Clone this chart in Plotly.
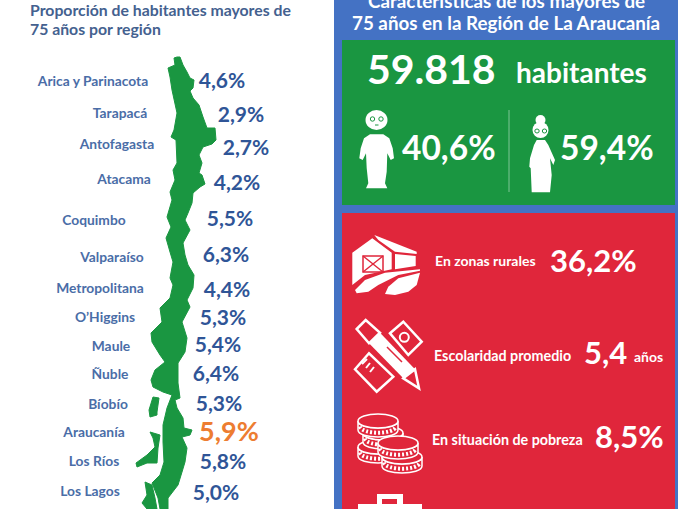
# Infografia: habitantes mayores de 75 anos, La Araucania
from plotly.graph_objects import Figure, Scatter

# datos
regiones = ['Arica y Parinacota', 'Tarapacá', 'Antofagasta', 'Atacama', 'Coquimbo', 'Valparaíso',
            'Metropolitana', 'O’Higgins', 'Maule', 'Ñuble', 'Bíobío', 'Araucanía', 'Los Ríos', 'Los Lagos']
proporcion = [4.6, 2.9, 2.7, 4.2, 5.5, 6.3, 4.4, 5.3, 5.4, 6.4, 5.3, 5.9, 5.8, 5.0]
habitantes = '59.818'
hombres = 40.6
mujeres = 59.4
rurales = 36.2
escolaridad = 5.4
pobreza = 8.5

# ubicacion de los textos en la pagina
label_x = [93, 120, 117, 124, 94, 112, 100, 105, 111, 110, 108, 94, 94, 90]
label_y = [83, 115, 146, 181, 222, 259, 290, 319, 348, 376, 406, 434, 463, 493]
valor_x = [222, 241, 246, 237, 230, 226, 227, 223, 218, 216, 219, 229, 223, 216]
valor_y = [83, 117, 150, 185, 221, 257, 292, 320, 347, 376, 406, 434, 464, 495]

FONT = 'Lato'
BLUE_PANEL = '#4472C4'
GREEN = '#1A9641'
RED = '#E0263B'
DARK_BLUE = '#2F5597'
LABEL_BLUE = '#4A6DA7'
ORANGE = '#ED7D31'
WHITE = '#FFFFFF'


def pct(v):
    return f'{v:.1f}'.replace('.', ',') + '%'


def poly(pts, ox=0, oy=0, k=1.0):
    p = [f'{ox + x * k:.1f},{oy + y * k:.1f}' for x, y in pts]
    return 'M ' + ' L '.join(p) + ' Z'


def path_shape(path, fill=WHITE, line=None, width=0):
    return dict(type='path', path=path, fillcolor=fill, line=dict(color=line or fill, width=width), layer='above')


def rect(x0, y0, x1, y1, fill):
    return dict(type='rect', x0=x0, y0=y0, x1=x1, y1=y1, fillcolor=fill, line=dict(width=0), layer='below')


def oval(cx, cy, rx, ry, fill=WHITE, line=None, width=0):
    return dict(type='circle', x0=cx - rx, x1=cx + rx, y0=cy - ry, y1=cy + ry, fillcolor=fill,
                line=dict(color=line or fill, width=width), layer='above')


def seg(x0, y0, x1, y1, color=WHITE, width=2):
    return dict(type='line', x0=x0, y0=y0, x1=x1, y1=y1, line=dict(color=color, width=width), layer='above')


def coin(cx, cy, rx=20, ry=7, h=9):
    l, r, c = cx - rx, cx + rx, ry * 1.33
    body = f'M {l},{cy} C {l},{cy + c} {r},{cy + c} {r},{cy} L {r},{cy + h} C {r},{cy + h + c} {l},{cy + h + c} {l},{cy + h} Z'
    mid = cy + h / 2
    ticks = f'M {l + 2},{mid + 1} C {l + 4},{mid + c} {r - 4},{mid + c} {r - 2},{mid + 1}'
    return [
        path_shape(body, fill=RED, line=WHITE, width=1.5),
        dict(type='path', path=ticks, line=dict(color=WHITE, width=4, dash='2px,2px'), layer='above'),
        oval(cx, cy, rx, ry, fill=RED, line=WHITE, width=1.5),
    ]


# mapa de Chile
chile = [(177, 57), (180, 57), (183, 65), (187, 72), (190, 78), (194, 80), (193, 88), (190, 91), (193, 98), (199, 105),
         (203, 117), (207, 128), (215, 128), (216, 140), (212, 144), (203, 147), (199, 155), (202, 163), (199, 173),
         (202, 175), (205, 184), (200, 187), (193, 193), (192, 203), (188, 213), (185, 220), (190, 230), (183, 243),
         (185, 255), (188, 265), (194, 275), (193, 288), (187, 300), (190, 307), (182, 322), (187, 338), (185, 352),
         (178, 363), (178, 383), (180, 398), (175, 400), (177, 408), (183, 418), (184, 428), (192, 430), (190, 435),
         (182, 437), (187, 448), (185, 462), (182, 472), (178, 485), (168, 498), (168, 509), (160, 509), (158, 498),
         (152, 483), (160, 475), (164, 462), (163, 442), (163, 425), (167, 408), (172, 395), (163, 392), (153, 387),
         (151, 380), (155, 370), (165, 362), (160, 355), (152, 342), (151, 333), (162, 322), (160, 308), (170, 298),
         (173, 285), (170, 278), (173, 262), (170, 252), (166, 238), (171, 227), (167, 217), (172, 200), (170, 192),
         (175, 180), (173, 170), (177, 163), (176, 140), (171, 137), (174, 130), (177, 113), (172, 90), (170, 77),
         (168, 68), (175, 65), (174, 58)]
isla_a = [(153, 397), (159, 398), (157, 412), (157, 415), (150, 417), (149, 410)]
isla_b = [(150, 432), (160, 435), (158, 448), (157, 463), (147, 463), (137, 467), (136, 463), (147, 455), (155, 447),
          (153, 438)]
isla_c = [(145, 482), (152, 485), (155, 498), (157, 509), (147, 509), (142, 503), (147, 495)]

# figuras: hombre y mujer
hombre = [(60, 88), (100, 88), (118, 100), (128, 130), (132, 160), (122, 165), (112, 145), (110, 200), (105, 235),
          (112, 250), (48, 250), (55, 235), (50, 190), (48, 145), (38, 165), (28, 160), (32, 130), (42, 100)]
mujer = [(50, 105), (75, 105), (85, 120), (105, 165), (100, 180), (90, 160), (95, 210), (90, 262), (35, 262),
         (32, 190), (28, 185), (30, 160), (42, 120)]

# iconos del panel rojo
granero = [(22, 68), (82, 25), (140, 68), (140, 118), (60, 135), (22, 165)]
techo = [(88, 15), (215, 65), (215, 72), (150, 65), (100, 30)]
pared = [(150, 72), (212, 78), (212, 108), (150, 118)]
campo_a = [(30, 180), (60, 150), (120, 128), (225, 118), (225, 122), (160, 135), (100, 165), (70, 185), (35, 190)]
campo_b = [(120, 192), (130, 170), (160, 145), (225, 128), (215, 165), (190, 185), (150, 195)]
lapiz = [(72, 100), (105, 68), (210, 178), (175, 205)]
goma = [(35, 57), (62, 30), (105, 68), (72, 100)]
punta = [(175, 205), (210, 178), (222, 235)]
regla = [(30, 178), (72, 130), (145, 200), (95, 245)]
tarjeta = [(135, 70), (175, 35), (230, 95), (190, 135)]

fig = Figure()

# fondos
shapes = [
    rect(334, -5, 680, 515, BLUE_PANEL),
    rect(342, 40, 675, 205, GREEN),
    rect(342, 213, 675, 515, RED),
]

# mapa
shapes += [path_shape(poly(p), fill=GREEN, width=1) for p in (chile, isla_a, isla_b, isla_c)]

# hombre
shapes += [
    oval(376.5, 120, 11, 10),
    path_shape(poly(hombre, 350, 105, 1 / 3)),
    oval(372.5, 119, 2.2, 2.2, fill=WHITE, line=GREEN, width=1),
    oval(381, 119, 2.2, 2.2, fill=WHITE, line=GREEN, width=1),
    seg(375, 125, 378.5, 125, GREEN, 1),
]

# mujer
shapes += [
    oval(540.5, 120, 5, 5),
    oval(540.5, 130, 8, 8),
    path_shape(poly(mujer, 520, 105, 1 / 3)),
    oval(537, 131, 2.2, 2, fill=WHITE, line=GREEN, width=1),
    oval(544.5, 131, 2.2, 2, fill=WHITE, line=GREEN, width=1),
    seg(509, 110, 509, 192, '#7FC596', 1),
]

# granero
shapes += [
    path_shape(poly(granero, 345, 230, 1 / 3)),
    path_shape(poly(techo, 345, 230, 1 / 3)),
    path_shape(poly(pared, 345, 230, 1 / 3)),
    path_shape(poly(campo_a, 345, 230, 1 / 3)),
    path_shape(poly(campo_b, 345, 230, 1 / 3)),
    dict(type='rect', x0=363, y0=256, x1=383, y1=272, fillcolor='rgba(0,0,0,0)', line=dict(color=RED, width=1.5), layer='above'),
    seg(363, 256, 383, 272, RED, 1.5),
    seg(383, 256, 363, 272, RED, 1.5),
]

# lapiz y regla
shapes += [
    path_shape(poly(regla, 345, 310, 1 / 3), fill=RED, line=WHITE, width=2.5),
    seg(362, 364, 367, 359, WHITE, 2),
    seg(366, 368, 370, 363, WHITE, 2),
    seg(370, 372, 374, 367, WHITE, 2),
    path_shape(poly(tarjeta, 345, 310, 1 / 3), fill=RED, line=WHITE, width=2.5),
    oval(404.3, 337.3, 4.5, 4.5, fill=RED, line=WHITE, width=2),
    path_shape(poly(lapiz, 345, 310, 1 / 3)),
    path_shape(poly(goma, 345, 310, 1 / 3), fill=RED, line=WHITE, width=2.5),
    path_shape(poly(punta, 345, 310, 1 / 3), fill=RED, line=WHITE, width=2.5),
    seg(387, 347, 402, 362, RED, 1.5),
]

# monedas
for cx, cy in [(378, 447), (383, 433), (378, 421), (402, 457), (398, 443)]:
    shapes += coin(cx, cy)

# maletin
shapes += [
    rect(377, 494, 403, 505, WHITE),
    rect(382, 499, 397, 505, RED),
    rect(358, 504, 422, 515, WHITE),
]

# regiones
fig.add_trace(Scatter(
    x=label_x, y=label_y, text=regiones, mode='text', hoverinfo='skip', cliponaxis=False,
    textposition='middle center',
    textfont=dict(family=FONT, size=13.8, color=LABEL_BLUE, weight=700),
))
fig.add_trace(Scatter(
    x=valor_x, y=valor_y, text=[pct(v) for v in proporcion], mode='text', hoverinfo='skip', cliponaxis=False,
    textposition='middle center',
    textfont=dict(family=FONT, weight=700,
                  size=[27 if r == 'Araucanía' else 21 for r in regiones],
                  color=[ORANGE if r == 'Araucanía' else DARK_BLUE for r in regiones]),
))


def texto(x, y, s, size, color=WHITE, anchor='center'):
    return dict(x=x, y=y, text=s, showarrow=False, xanchor=anchor, yanchor='middle', align=anchor,
                font=dict(family=FONT, size=size, color=color, weight=700))


annotations = [
    texto(28, 9, 'Proporción de habitantes mayores de', 15.8, '#44618F', 'left'),
    texto(28, 28, '75 años por región', 15.8, '#44618F', 'left'),
    texto(506, 0, 'Características de los mayores de', 18.8),
    texto(506, 22, '75 años en la Región de La Araucanía', 18.8),
    texto(431, 68, habitantes, 41),
    texto(581, 72, 'habitantes', 28),
    texto(449, 147, pct(hombres), 33.5),
    texto(607, 147, pct(mujeres), 33.5),
    texto(485, 260, 'En zonas rurales', 14),
    texto(593, 260, pct(rurales), 31),
    texto(502, 355, 'Escolaridad promedio', 14.3),
    texto(605, 352, f'{escolaridad:.1f}'.replace('.', ','), 31),
    texto(648, 356, 'años', 14),
    texto(507, 439, 'En situación de pobreza', 14.3),
    texto(629, 436, pct(pobreza), 31),
]

fig.update_layout(
    width=678, height=509,
    margin=dict(l=0, r=0, t=0, b=0),
    paper_bgcolor=WHITE, plot_bgcolor=WHITE,
    showlegend=False,
    xaxis=dict(range=[0, 678], visible=False, fixedrange=True),
    yaxis=dict(range=[509, 0], visible=False, fixedrange=True),
    shapes=shapes,
    annotations=annotations,
)

fig.write_html('out.html', config=dict(displayModeBar=False), post_script="document.body.style.margin='0';")
